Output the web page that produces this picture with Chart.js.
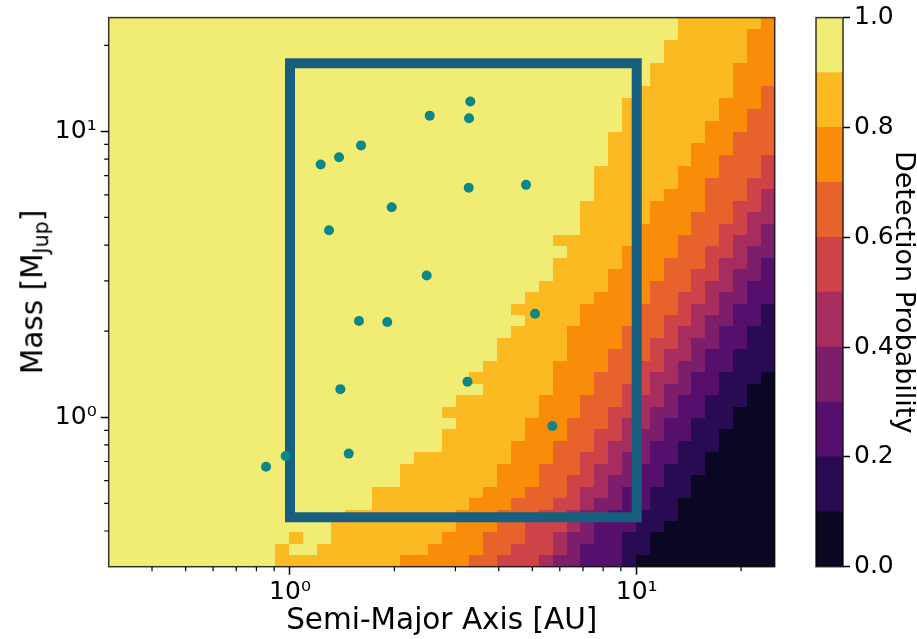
<!DOCTYPE html>
<html>
<head>
<meta charset="utf-8">
<script src="https://cdn.jsdelivr.net/npm/chart.js@4.4.0/dist/chart.umd.min.js"></script>
<style>
  html, body { margin: 0; padding: 0; background: #fff; }
  #wrap { position: relative; width: 917px; height: 639px; overflow: hidden; }
  canvas { position: absolute; left: 0; top: 0; }
  #ytitle {
    position: absolute; left: 33px; top: 292px;
    transform: translate(-50%, -50%) rotate(-90deg);
    font: 29.5px "DejaVu Sans"; color: #000; white-space: nowrap; line-height: 1;
  }
  #ytitle .sub { font-size: 70%; position: relative; top: 0.3em; }
</style>
</head>
<body>
<div id="wrap">
  <canvas id="mapChart" width="917" height="639"></canvas>
  <canvas id="barChart" width="917" height="639"></canvas>
  <div id="ytitle">Mass [M<span class="sub">Jup</span>]</div>
</div>
<script>
// planets (semi-major axis in AU, mass in M_Jup)
const planetA = [0.853, 0.972, 1.226, 1.385, 1.603, 2.529, 3.311, 3.284, 1.965, 3.277,
                 4.795, 1.296, 2.479, 1.581, 1.908, 5.09, 1.397, 3.25, 1.477, 5.71];
const planetM = [0.671, 0.732, 7.66, 8.12, 8.93, 11.35, 12.71, 11.11, 5.43, 6.35,
                 6.50, 4.51, 3.13, 2.17, 2.154, 2.30, 1.254, 1.332, 0.746, 0.932];

// survey box corners
const boxA = [1, 10, 10, 1, 1, 10];
const boxM = [0.447, 0.447, 17.3, 17.3, 0.447, 0.447];

// detection probability grid: 48 x 48 log cells, 0.3 .. 25 on both axes
// for each row (top = highest mass) the first column where the level drops below k
const edge9 = [41,41,40,40,39,39,38,37,37,37, 36,36,36,35,35,35,34,34,34,32, 33,32,32,31,30,29,30,29,28,28, 27,26,27,25,24,25,24,24,22,21, 21,19,19,17,16,16,15,12];
const edge8 = [47,46,46,46,45,45,45,44,44,43, 43,42,42,41,41,40,39,39,38,38, 37,37,36,36,35,34,34,33,33,33, 32,32,32,31,31,30,30,29,29,28, 28,27,26,25,25,24,23,21];
const edge7 = [48,48,48,48,48,48,47,47,46,46, 45,45,44,44,43,43,43,42,42,41, 41,40,40,39,39,38,38,37,37,36, 36,35,35,34,34,33,33,32,32,31, 31,30,29,28,28,27,27,26];
const edge6 = [48,48,48,48,48,48,48,48,48,48, 48,48,47,47,46,46,45,45,44,44, 43,43,42,42,41,41,40,40,39,39, 38,38,37,37,36,36,35,35,34,34, 33,33,32,31,30,30,29,28];
const edge5 = [48,48,48,48,48,48,48,48,48,48, 48,48,48,48,48,47,47,46,46,45, 45,44,44,43,43,42,42,41,41,40, 40,39,39,38,38,37,37,36,36,35, 35,34,34,33,33,32,32,31];
const edge4 = [48,48,48,48,48,48,48,48,48,48, 48,48,48,48,48,48,48,48,47,47, 46,46,45,45,44,44,43,43,42,42, 41,41,40,40,39,39,38,38,37,37, 36,36,35,34,34,33,33,32];
const edge3 = [48,48,48,48,48,48,48,48,48,48, 48,48,48,48,48,48,48,48,48,48, 48,47,47,46,46,45,45,44,44,43, 43,42,42,41,41,40,40,39,39,38, 38,37,37,36,35,35,34,34];
const edge2 = [48,48,48,48,48,48,48,48,48,48, 48,48,48,48,48,48,48,48,48,48, 48,48,48,48,48,47,47,46,46,45, 45,44,44,43,43,42,42,41,41,40, 40,39,39,38,38,37,37,37];
const edge1 = [48,48,48,48,48,48,48,48,48,48, 48,48,48,48,48,48,48,48,48,48, 48,48,48,48,48,48,48,48,48,48, 48,47,46,46,45,45,44,44,43,43, 42,42,41,41,40,39,39,38];
// single cells that break the pattern: [row, column, level]
const patchCells = [[45, 13, 8], [46, 12, 8]];

const levelBounds = [0, 0.1, 0.2, 0.3, 0.4, 0.5, 0.6, 0.7, 0.8, 0.9, 1.0];
const levelColors = ['#0a0722', '#290b54', '#560f6d', '#7d1e6d', '#a72d5f',
                     '#cd4347', '#e8622b', '#f98d0a', '#fbba22', '#f1ed74'];

const majorTicks = [1, 10];
const minorTicks = [0.3, 0.4, 0.5, 0.6, 0.7, 0.8, 0.9, 2, 3, 4, 5, 6, 7, 8, 9, 20];
const colorTicks = [0, 0.2, 0.4, 0.6, 0.8, 1.0];

const gridMin = 0.3, gridMax = 25, gridN = 48;
const cellEdges = [];
for (let k = 0; k <= gridN; k++) cellEdges.push(gridMin * Math.pow(gridMax / gridMin, k / gridN));

const boundaries = [edge9, edge8, edge7, edge6, edge5, edge4, edge3, edge2, edge1];
function levelAt(r, c) {
  for (const p of patchCells) if (p[0] === r && p[1] === c) return p[2];
  let lvl = 9;
  boundaries.forEach(e => { if (c >= e[r]) lvl--; });
  return lvl;
}

Chart.defaults.font.family = "DejaVu Sans";
Chart.defaults.color = "#000";
const TICK_FONT = { family: "DejaVu Sans", size: 25 };
const TITLE_FONT = { family: "DejaVu Sans", size: 29.5 };

const heatmap = {
  id: "heatmap",
  beforeDatasetsDraw(chart) {
    const { ctx, chartArea: a, scales: { x, y } } = chart;
    ctx.save();
    ctx.beginPath();
    ctx.rect(a.left, a.top, a.right - a.left, a.bottom - a.top);
    ctx.clip();
    for (let r = 0; r < gridN; r++) {
      const y0 = Math.round(y.getPixelForValue(cellEdges[gridN - r]));
      const y1 = Math.round(y.getPixelForValue(cellEdges[gridN - r - 1]));
      let c = 0;
      while (c < gridN) {
        const lvl = levelAt(r, c);
        let c2 = c + 1;
        while (c2 < gridN && levelAt(r, c2) === lvl) c2++;
        const x0 = Math.round(x.getPixelForValue(cellEdges[c]));
        const x1 = Math.round(x.getPixelForValue(cellEdges[c2]));
        ctx.fillStyle = levelColors[lvl];
        ctx.fillRect(x0, y0, x1 - x0, y1 - y0);
        c = c2;
      }
    }
    ctx.restore();
  },
  afterDatasetsDraw(chart) {
    const { ctx, chartArea: a } = chart;
    ctx.save();
    ctx.strokeStyle = "rgba(0,0,0,0.8)";
    ctx.lineWidth = 1.5;
    ctx.strokeRect(a.left, a.top, a.right - a.left, a.bottom - a.top);
    ctx.restore();
  },
  afterDraw(chart) {
    // minor ticks
    const { ctx, chartArea: a, scales: { x, y } } = chart;
    ctx.save();
    ctx.strokeStyle = "#000";
    ctx.lineWidth = 1.2;
    ctx.beginPath();
    minorTicks.forEach(v => {
      if (v > x.min && v < x.max) {
        const px = x.getPixelForValue(v);
        ctx.moveTo(px, a.bottom); ctx.lineTo(px, a.bottom + 4.5);
      }
      if (v > y.min && v < y.max) {
        const py = y.getPixelForValue(v);
        ctx.moveTo(a.left, py); ctx.lineTo(a.left - 4.5, py);
      }
    });
    ctx.stroke();
    ctx.restore();
  }
};

const supLabel = v => (v === 1 ? "10\u2070" : v === 10 ? "10\u00b9" : "");

new Chart(document.getElementById("mapChart"), {
  type: "scatter",
  data: {
    datasets: [
      {
        label: "planets",
        data: planetA.map((a, i) => ({ x: a, y: planetM[i] })),
        pointRadius: 5,
        pointHoverRadius: 5,
        backgroundColor: "#0b8787",
        borderWidth: 0,
        order: 0,
      },
      {
        label: "box",
        type: "line",
        data: boxA.map((a, i) => ({ x: a, y: boxM[i] })),
        borderColor: "#185e7f",
        borderWidth: 10,
        borderJoinStyle: "miter",
        borderCapStyle: "butt",
        pointRadius: 0,
        fill: false,
        tension: 0,
        order: 1,
      },
    ],
  },
  options: {
    responsive: false,
    animation: false,
    layout: { padding: { left: 0, top: 17.6, right: 142.3, bottom: 0 } },
    plugins: { legend: { display: false }, tooltip: { enabled: false } },
    scales: {
      x: {
        type: "logarithmic",
        min: 0.3,
        max: 25,
        afterBuildTicks: s => { s.ticks = majorTicks.map(v => ({ value: v, major: true })); },
        ticks: { callback: supLabel, font: TICK_FONT, color: "#000", padding: 3, maxRotation: 0, autoSkip: false },
        grid: { drawOnChartArea: false, tickLength: 8, tickWidth: 1.5, tickColor: "#000" },
        border: { display: false },
        title: { display: true, text: "Semi-Major Axis [AU]", font: TITLE_FONT, color: "#000", padding: { top: 0, bottom: 0 } },
        afterFit: s => { s.height = 72.3; s.paddingLeft = 0; s.paddingRight = 0; },
      },
      y: {
        type: "logarithmic",
        min: 0.3,
        max: 25,
        afterBuildTicks: s => { s.ticks = majorTicks.map(v => ({ value: v, major: true })); },
        ticks: { callback: supLabel, font: TICK_FONT, color: "#000", padding: 4, autoSkip: false },
        grid: { drawOnChartArea: false, tickLength: 8, tickWidth: 1.5, tickColor: "#000" },
        border: { display: false },
        afterFit: s => { s.width = 108.7; s.paddingTop = 0; s.paddingBottom = 0; },
      },
    },
  },
  plugins: [heatmap],
});

// colorbar
const outline = {
  id: "outline",
  afterDatasetsDraw(chart) {
    const { ctx, chartArea: a } = chart;
    ctx.save();
    ctx.strokeStyle = "rgba(0,0,0,0.8)";
    ctx.lineWidth = 1.5;
    ctx.strokeRect(a.left, a.top, a.right - a.left, a.bottom - a.top);
    ctx.restore();
  }
};

new Chart(document.getElementById("barChart"), {
  type: "bar",
  data: {
    labels: [""],
    datasets: levelColors.map((col, k) => ({
      data: [[levelBounds[k], levelBounds[k + 1]]],
      backgroundColor: col,
      borderWidth: 0,
      grouped: false,
      barPercentage: 1,
      categoryPercentage: 1,
    })),
  },
  options: {
    responsive: false,
    animation: false,
    layout: { padding: { left: 816, top: 17.6, right: 0, bottom: 72.3 } },
    plugins: { legend: { display: false }, tooltip: { enabled: false } },
    scales: {
      x: { display: false },
      y: {
        position: "right",
        min: 0,
        max: 1,
        afterBuildTicks: s => { s.ticks = colorTicks.map(v => ({ value: v })); },
        ticks: { callback: v => v.toFixed(1), font: TICK_FONT, color: "#000", padding: 4 },
        grid: { drawOnChartArea: false, tickLength: 7, tickWidth: 1.5, tickColor: "#000" },
        border: { display: false },
        title: {
          display: true, text: "Detection Probability", color: "#000",
          font: { family: "DejaVu Sans", size: 27, lineHeight: 1 }, padding: { top: 0, bottom: 0 }
        },
        afterFit: s => { s.width = 917 - 843; s.paddingTop = 0; s.paddingBottom = 0; },
      },
    },
  },
  plugins: [outline],
});
</script>
</body>
</html>
